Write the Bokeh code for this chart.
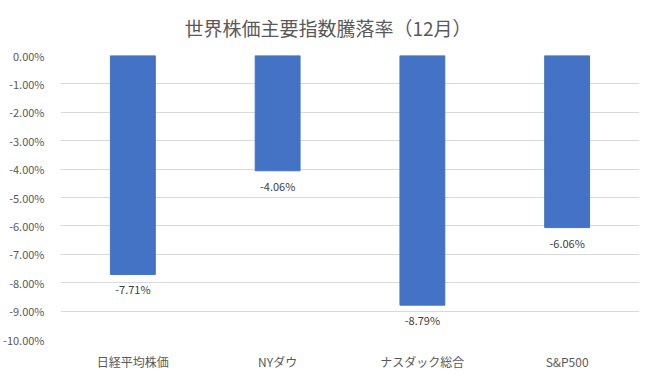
from bokeh.plotting import figure
from bokeh.models import ColumnDataSource, FixedTicker, PrintfTickFormatter, LabelSet, Range1d
from bokeh.core.properties import value
from bokeh.embed import file_html
from bokeh.resources import INLINE

categories = ["日経平均株価", "NYダウ", "ナスダック総合", "S&P500"]
values = [-7.71, -4.06, -8.79, -6.06]
labels = ["-7.71%", "-4.06%", "-8.79%", "-6.06%"]
y_ticks = [0, -1, -2, -3, -4, -5, -6, -7, -8, -9, -10]

FONT = "Noto Sans CJK JP"

src = ColumnDataSource(dict(cat=categories, val=values, lab=labels))

p = figure(x_range=categories, y_range=Range1d(-10, 0),
           frame_width=579, frame_height=284,
           output_backend="svg", toolbar_location=None,
           title="世界株価主要指数騰落率（12月）",
           min_border_left=52, min_border_right=6, min_border_top=49, min_border_bottom=29)

p.title.align = "left"
p.title.offset = 124
p.title.vertical_align = "top"
p.title.text_font = FONT
p.title.text_font_size = "19px"
p.title.text_font_style = "normal"
p.title.text_color = "#595959"
p.title.standoff = 26

p.vbar(x="cat", top="val", bottom=0, width=0.31, source=src, color="#4472C4")

p.add_layout(LabelSet(x="cat", y="val", text="lab", source=src, y_offset=-7,
                      text_align="center", text_baseline="top",
                      text_font_size=value("11px"), text_color=value("#404040"),
                      text_font=value(FONT)))

p.yaxis.ticker = FixedTicker(ticks=y_ticks)
p.yaxis.formatter = PrintfTickFormatter(format="%.2f%%")
p.yaxis.axis_line_color = None
p.yaxis.major_tick_line_color = None
p.yaxis.minor_tick_line_color = None
p.yaxis.major_label_text_font = FONT
p.yaxis.major_label_text_font_size = "11px"
p.yaxis.major_label_text_color = "#595959"
p.yaxis.major_label_standoff = 10

p.xaxis.axis_line_color = None
p.xaxis.major_tick_line_color = None
p.xaxis.major_label_text_font = FONT
p.xaxis.major_label_text_font_size = "12px"
p.xaxis.major_label_text_color = "#595959"
p.xaxis.major_label_standoff = 7

p.xgrid.grid_line_color = None
p.ygrid.grid_line_color = "#d9d9d9"
p.ygrid.ticker = FixedTicker(ticks=y_ticks)
p.outline_line_color = None
p.background_fill_color = "white"
p.border_fill_color = "white"

open("out.html", "w").write(file_html(p, INLINE))
